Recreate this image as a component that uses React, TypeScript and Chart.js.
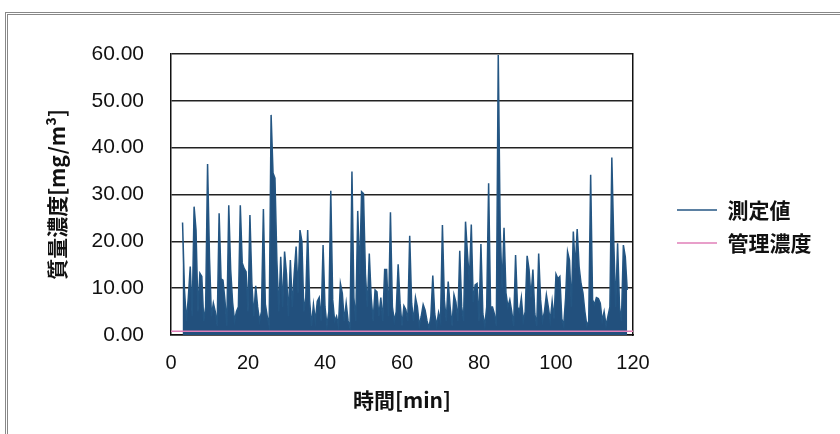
import React, { useEffect, useRef } from "react";
import { Chart, registerables } from "chart.js";

Chart.register(...registerables);

// Sampling of the measured series (minutes)
const sampleStart = 3;
const sampleStep = 0.5;

// 測定値 [mg/m³], one value per sample
const measured: number[] = [
  24, 9.6, 3, 8, 14.6, 4, 27.4, 22.4, 5, 13.2, 12.5, 3, 6, 36.5, 16.4, 4, 6.8, 5, 2,
  26, 12, 11.7, 7.5, 2, 27.7, 14, 7, 3, 5, 6, 27.7, 15.4, 14.2, 13.5, 5, 25.6, 11.1, 4,
  10.5, 6, 3, 5, 26.9, 6.6, 4, 2, 47, 34.6, 33.5, 15.9, 5, 16.7, 6, 17.8, 13, 4, 16, 6,
  13, 18.9, 9, 22.4, 20, 5, 8, 22.4, 7.4, 2, 6.5, 3, 7.2, 8, 3, 19.2, 6, 2, 5, 30.8, 7.5,
  3, 4, 2, 11, 8.9, 3, 6.8, 3, 1.5, 34.9, 8, 3, 26.5, 13, 30.6, 30.2, 13, 6, 17.4, 8, 3,
  9.6, 9.2, 4, 8, 3, 14, 14, 4, 26.2, 6, 3, 5, 15.1, 6.8, 2, 6.2, 5.4, 3, 21.2, 6.8, 3,
  8, 6, 2, 4, 6.5, 5.3, 3, 1.5, 4, 12.7, 4.5, 2, 4.8, 3, 23.5, 7.5, 3, 11.4, 6, 2, 8.6,
  7, 3, 18, 6, 3, 24.2, 17.4, 11.7, 23.6, 7, 10.7, 11, 3, 19.4, 4.5, 2, 6, 32.4, 6, 6,
  4.5, 2, 59.8, 22.6, 10, 22.9, 9, 6, 7.5, 5, 2, 17.1, 6, 5, 8, 3, 5, 16.9, 14, 8, 14,
  4.5, 2, 17.4, 7.5, 3, 5, 8.6, 6, 3, 7.2, 3.5, 13, 12, 12.5, 3.5, 2, 8, 17.8, 16, 6,
  22.1, 14.3, 22.6, 14.6, 11, 9, 5, 2, 3, 34.2, 7.5, 6.5, 8, 7.8, 6.8, 3, 5, 2, 4, 6,
  37.9, 20, 6, 19.6, 6, 3, 19.2, 16.7, 9.6,
];

// 管理濃度 [mg/m³]
const controlTimes: number[] = [0, 120];
const controlValues: number[] = [0.8, 0.8];

const seriesNames: string[] = ["測定値", "管理濃度"];
const xTitle = "時間[min]";
const yTitle = "質量濃度[mg/m³]";

const CJK = "'Noto Sans CJK JP', 'Noto Sans', sans-serif";
const LATIN = "'Liberation Sans', Arial, sans-serif";

export default function App() {
  const ref = useRef<HTMLCanvasElement | null>(null);

  useEffect(() => {
    if (!ref.current) return;
    const chart = new Chart(ref.current, {
      type: "line",
      data: {
        datasets: [
          {
            label: seriesNames[0],
            data: measured.map((v, i) => ({ x: sampleStart + i * sampleStep, y: v })),
            borderColor: "#245683",
            backgroundColor: "#22507d",
            borderWidth: 1.5,
            pointRadius: 0,
            tension: 0,
            fill: "origin",
            order: 1,
          },
          {
            label: seriesNames[1],
            data: controlTimes.map((t, i) => ({ x: t, y: controlValues[i] })),
            borderColor: "#e07fb8",
            backgroundColor: "#e07fb8",
            borderWidth: 1.5,
            pointRadius: 0,
            tension: 0,
            order: 0,
          },
        ],
      },
      options: {
        responsive: false,
        animation: false,
        layout: { padding: { left: 0, top: 54, right: 18.5, bottom: 0 } },
        plugins: {
          tooltip: { enabled: false },
          filler: { propagate: false },
          legend: {
            display: true,
            position: "right",
            align: "start",
            maxWidth: 400,
            title: { display: true, text: "", font: { size: 10 }, padding: { top: 121.5, bottom: 0 } },
            labels: {
              usePointStyle: true,
              pointStyle: "line",
              pointStyleWidth: 40,
              padding: 12,
              color: "#111",
              font: { family: CJK, size: 21, weight: "bold" },
              sort: (a: any, b: any) => a.datasetIndex - b.datasetIndex,
            },
          },
        },
        scales: {
          x: {
            type: "linear",
            min: 0,
            max: 120,
            ticks: {
              stepSize: 20,
              padding: 16,
              color: "#111",
              font: { family: LATIN, size: 20 },
            },
            grid: { display: false, drawTicks: false },
            border: { display: true, color: "#111", width: 1.5 },
            title: {
              display: true,
              text: xTitle,
              color: "#111",
              font: { family: CJK, size: 21, weight: "bold" },
              padding: { top: 0, bottom: 21.4 },
            },
            afterFit: (s: any) => {
              s.height = 99;
            },
          },
          y: {
            type: "linear",
            min: 0,
            max: 60,
            ticks: {
              stepSize: 10,
              padding: 27,
              color: "#111",
              font: { family: LATIN, size: 21 },
              callback: (v: any) => Number(v).toFixed(2),
            },
            grid: { color: "#222", lineWidth: 1.5, drawTicks: false },
            border: { display: true, color: "#111", width: 1.5 },
            title: {
              display: true,
              text: yTitle,
              color: "#111",
              font: { family: CJK, size: 21, weight: "bold" },
              padding: { top: 44.4, bottom: 0 },
            },
            afterFit: (s: any) => {
              s.width = 171;
            },
          },
          yRight: {
            type: "linear",
            position: "right",
            min: 0,
            max: 60,
            ticks: { display: false },
            grid: { display: false, drawTicks: false },
            border: { display: true, color: "#111", width: 1.5 },
            afterFit: (s: any) => {
              s.width = 32;
            },
          },
        },
      },
    });
    return () => chart.destroy();
  }, []);

  return (
    <div
      style={{
        position: "fixed",
        left: 0,
        top: 0,
        width: 840,
        height: 434,
        background: "#fff",
        overflow: "hidden",
      }}
    >
      <div
        style={{
          position: "absolute",
          left: 5,
          top: 12,
          width: 900,
          height: 500,
          borderLeft: "3px double #888",
          borderTop: "3px double #888",
        }}
      />
      <canvas ref={ref} width={840} height={434} style={{ position: "absolute", left: 0, top: 0 }} />
    </div>
  );
}
